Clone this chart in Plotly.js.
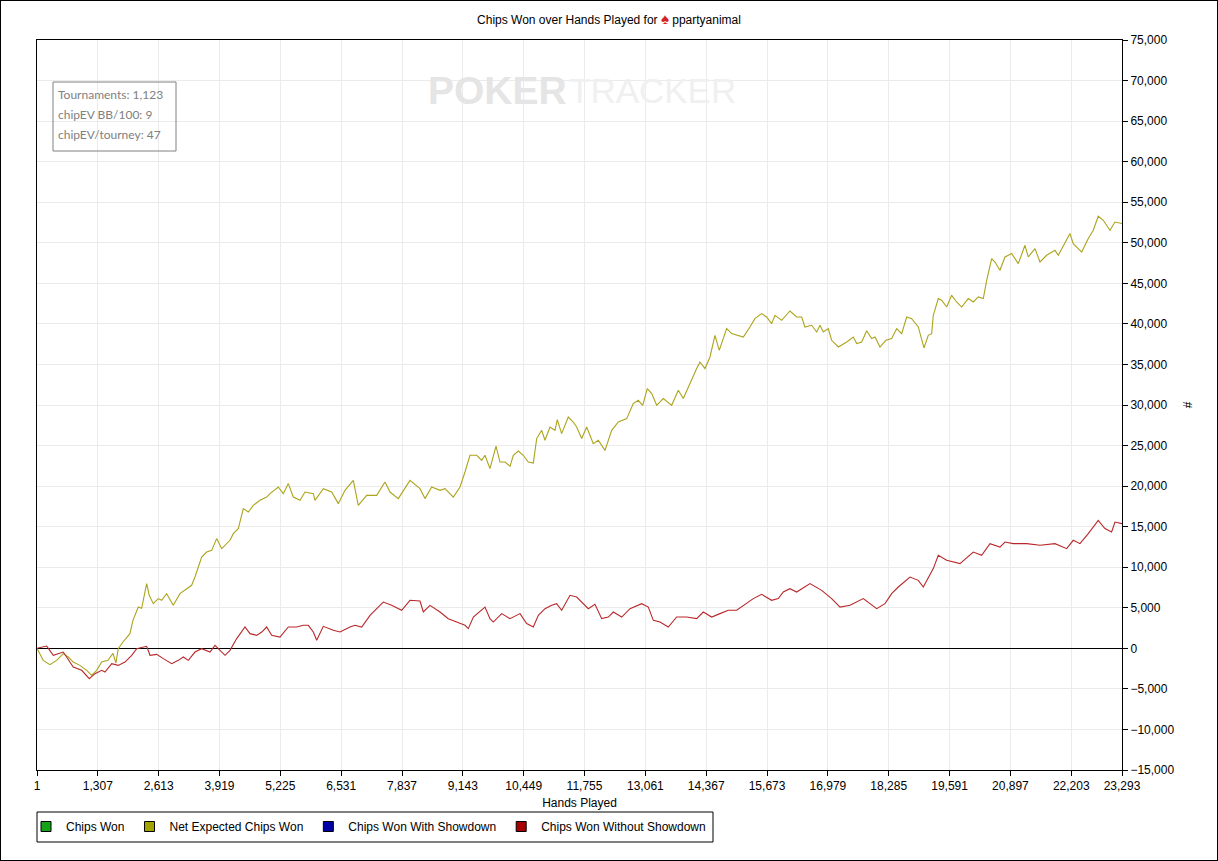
<!DOCTYPE html>
<html>
<head>
<meta charset="utf-8">
<script src="https://cdn.plot.ly/plotly-3.0.1.min.js"></script>
<style>
  html, body { margin: 0; padding: 0; background: #fff; }
  #wrap { position: relative; width: 1218px; height: 861px; }
  #chart { width: 1218px; height: 861px; }
  #frame { position: absolute; left: 0; top: 0; width: 1218px; height: 861px; box-sizing: border-box; border: 1px solid #000; pointer-events: none; }
</style>
</head>
<body>
<div id="wrap"><div id="chart"></div><div id="frame"></div></div>
<script>
// ---- data ----
const xTickVals = [1,1307,2613,3919,5225,6531,7837,9143,10449,11755,13061,14367,15673,16979,18285,19591,20897,22203,23293];

const seriesNames = ["Chips Won", "Net Expected Chips Won", "Chips Won With Showdown", "Chips Won Without Showdown"];
const legendColors = ["#17a317", "#a3a300", "#0000a8", "#a80000"];

// Net Expected Chips Won
const evHands = [1,135,279,423,565,672,779,923,1067,1174,1282,1389,1524,1632,1696,1745,1846,1996,2061,2175,2248,2355,2411,2497,2604,2677,2784,2926,3070,3214,3321,3392,3536,3643,3751,3858,3966,4144,4215,4322,4430,4537,4644,4788,4932,5003,5181,5288,5396,5503,5647,5754,5933,5969,6147,6327,6469,6613,6791,6898,7078,7293,7472,7579,7757,8008,8223,8330,8474,8653,8760,8938,9082,9189,9296,9440,9548,9618,9725,9855,9940,10047,10155,10226,10333,10440,10548,10655,10728,10835,10906,11013,11121,11170,11264,11406,11513,11586,11694,11801,11943,12050,12194,12338,12480,12660,12802,12909,13003,13102,13197,13304,13446,13626,13768,13875,13982,14162,14233,14340,14448,14555,14647,14806,14913,15055,15163,15306,15413,15557,15664,15772,15843,15987,16165,16309,16416,16487,16631,16738,16809,16880,16988,17060,17203,17383,17525,17598,17705,17812,17919,17990,18097,18226,18348,18456,18563,18671,18778,18920,19042,19134,19207,19242,19349,19421,19529,19636,19743,19851,19993,20100,20208,20315,20388,20495,20566,20673,20781,20925,21066,21210,21281,21425,21532,21676,21854,21925,22069,22176,22247,22427,22569,22676,22783,22891,23034,23142,23293];
const evValues = [0,-1480,-2010,-1480,-650,-1070,-1690,-2100,-2710,-3330,-2710,-1690,-1480,-620,-1810,-40,780,1810,3450,5090,4930,7980,6530,5510,6130,5920,6740,5300,6740,7360,7770,8790,11260,11870,12080,13530,12290,13320,14140,14760,17230,16810,17630,18250,18650,19070,19890,19070,20310,18650,18250,19270,19070,18250,19690,19270,17840,19480,20710,17630,18860,18860,20500,19270,18460,20710,19690,18460,19890,19480,19690,18650,19890,21740,23800,23800,23180,23800,22160,24940,22970,22970,22440,23800,24330,23800,22970,22850,25860,26880,25650,27290,26880,28200,26470,28520,27900,27290,25860,27290,25240,25650,24410,26880,27900,28320,30170,30580,29960,32020,31400,29960,30790,29960,31810,30790,32220,34490,35300,34490,35920,38590,36740,39420,38800,38590,38380,39620,40650,41270,40850,40030,41060,40440,41590,40850,40850,39620,39830,39000,39830,39000,39420,37980,37150,37770,38380,37570,37770,39150,38190,38380,37150,37980,38190,39420,38800,40850,40650,39620,37030,38590,38800,41060,43120,42910,42080,43520,42700,42080,43120,42700,43320,43120,45370,48050,47630,46610,48250,48670,47430,49690,48250,49280,47630,48460,49070,48460,49900,51130,49900,48860,50520,51540,53270,52770,51540,52560,52370];

// Chips Won Without Showdown
const nsHands = [1,209,351,565,779,961,1124,1246,1389,1461,1605,1745,1890,2034,2141,2283,2355,2427,2571,2712,2893,3034,3142,3249,3392,3536,3715,3822,4037,4144,4288,4466,4573,4717,4825,4932,5039,5217,5396,5576,5718,5825,5933,6005,6147,6362,6506,6720,6828,6971,7150,7327,7434,7615,7830,8008,8223,8294,8437,8653,8830,9011,9189,9260,9368,9618,9725,9796,9977,10155,10370,10513,10655,10763,10906,11050,11157,11264,11443,11586,11728,11836,11979,12123,12265,12373,12553,12731,12982,13124,13232,13375,13553,13733,13948,14162,14305,14484,14663,14841,15021,15270,15378,15557,15664,15772,15914,16022,16165,16309,16595,16846,17060,17239,17454,17739,18027,18205,18348,18491,18741,18920,19027,19242,19349,19529,19815,20100,20280,20459,20673,20781,20959,21246,21532,21854,22105,22247,22391,22569,22783,22927,23070,23142,23293];
const nsValues = [0,280,-860,-460,-2310,-2710,-3740,-3120,-2710,-2920,-1890,-2100,-1690,-860,-40,160,250,-860,-740,-1270,-1890,-1480,-1070,-1480,-460,-40,-460,370,-860,-250,1200,2630,1810,1600,2010,2630,1600,1390,2630,2630,2840,2840,2010,990,2710,2220,2010,2630,2840,2630,4070,5090,5710,5300,4690,5920,5830,4480,5300,4480,3660,3240,2840,2430,3860,5090,3660,3240,4280,3660,4280,3050,2630,4070,4890,5300,5510,4690,6540,6330,5510,4890,5430,3660,3860,4480,3860,4890,5510,5090,3450,3240,2630,3860,3860,3660,4480,3860,4280,4690,4690,5710,6130,6660,6330,5920,6130,6940,7360,6940,7980,7150,6130,5090,5300,6130,4890,5510,6740,7560,8790,8380,7560,9830,11470,10850,10440,11870,11470,12910,12490,13110,12910,12910,12700,12910,12290,13320,12910,14140,15780,14760,14340,15570,15370];

// stats box text
const statLines = ["Tournaments: 1,123", "chipEV BB/100: 9", "chipEV/tourney: 47"];

// ---- layout helpers ----
const W = 1218, H = 861;
const mL = 37, mR = 96, mT = 40, mB = 91;
const pw = W - mL - mR, ph = H - mT - mB;
const px = x => (x - mL) / pw;        // page px -> paper x
const py = y => (H - mB - y) / ph;    // page px -> paper y

const baseFont = "Arial, 'Liberation Sans', sans-serif";

const traces = [];
// legend-only entries (square swatches)
seriesNames.forEach((n, i) => {
  traces.push({
    type: "scatter", mode: "markers", x: [null], y: [null], name: n,
    legendgroup: "g" + i,
    marker: { symbol: "square", size: 10, color: legendColors[i], line: { color: "#000", width: 1 } },
    hoverinfo: "skip"
  });
});
traces.push({
  type: "scatter", mode: "lines", x: evHands, y: evValues, name: seriesNames[1],
  legendgroup: "g1", showlegend: false,
  line: { color: "#aca41c", width: 1.1 }
});
traces.push({
  type: "scatter", mode: "lines", x: nsHands, y: nsValues, name: seriesNames[3],
  legendgroup: "g3", showlegend: false,
  line: { color: "#b8282a", width: 1.1 }
});

const wmFont = "'Liberation Sans', Arial, sans-serif";
const annotations = [
  { xref: "paper", yref: "paper", x: px(569), y: py(90), xanchor: "right", yanchor: "middle",
    text: "<b>POKER</b>", showarrow: false,
    font: { family: wmFont, size: 39, color: "#e5e5e5" } },
  { xref: "paper", yref: "paper", x: px(567), y: py(90), xanchor: "left", yanchor: "middle",
    text: "TRACKER", showarrow: false,
    font: { family: wmFont, size: 35, color: "#f0f0f0" } }
];
statLines.forEach((t, i) => {
  annotations.push({
    xref: "paper", yref: "paper", x: px(56), y: py(95 + i * 20), xanchor: "left", yanchor: "middle",
    text: t, showarrow: false,
    font: { family: "Lato, 'Noto Sans', sans-serif", size: 12, color: "#808080" }
  });
});

const layout = {
  width: W, height: H,
  margin: { l: mL, r: mR, t: mT, b: mB, pad: 0 },
  paper_bgcolor: "#fff", plot_bgcolor: "#fff",
  font: { family: baseFont, size: 12, color: "#000" },
  title: {
    text: "Chips Won over Hands Played for <span style=\"color:#d42020;font-size:15px\">♠</span> ppartyanimal",
    x: 0.5, xref: "container", y: 1 - 20 / H, yref: "container", yanchor: "middle",
    font: { family: baseFont, size: 12, color: "#000" }
  },
  showlegend: true,
  legend: {
    orientation: "h", x: px(26), xanchor: "left", y: -(812 - (H - mB)) / ph, yanchor: "top",
    borderwidth: 0, bgcolor: "rgba(0,0,0,0)",
    font: { family: baseFont, size: 12, color: "#000" },
    itemclick: false, itemdoubleclick: false, traceorder: "normal"
  },
  xaxis: {
    range: [1, 23293], tickvals: xTickVals, tickformat: ",d",
    ticks: "outside", ticklen: 5, tickcolor: "#000",
    showline: true, linecolor: "#000", linewidth: 1, mirror: true,
    showgrid: true, gridcolor: "#ebebeb", gridwidth: 1, zeroline: false,
    tickfont: { family: baseFont, size: 12, color: "#000" },
    title: { text: "Hands Played", standoff: 6, font: { family: baseFont, size: 12, color: "#000" } }
  },
  yaxis: {
    side: "right", range: [-15000, 75000], dtick: 5000, tick0: 0, tickformat: ",d",
    ticks: "outside", ticklen: 5, tickcolor: "#000",
    showline: true, linecolor: "#000", linewidth: 1, mirror: true,
    showgrid: true, gridcolor: "#ebebeb", gridwidth: 1,
    zeroline: true, zerolinecolor: "#000", zerolinewidth: 1,
    tickfont: { family: baseFont, size: 12, color: "#000" },
    title: { text: "#", standoff: 10, font: { family: baseFont, size: 12, color: "#000" } }
  },
  shapes: [
    { type: "rect", xref: "paper", yref: "paper", x0: px(53), x1: px(176), y0: py(151), y1: py(82),
      line: { color: "#808080", width: 1 }, fillcolor: "rgba(0,0,0,0)", layer: "above" },
    { type: "rect", xref: "paper", yref: "paper", x0: px(37), x1: px(713), y0: py(842), y1: py(812),
      line: { color: "#000", width: 1 }, fillcolor: "rgba(0,0,0,0)", layer: "above" }
  ],
  annotations: annotations
};

Plotly.newPlot("chart", traces, layout, { displayModeBar: false, staticPlot: true });
</script>
</body>
</html>
